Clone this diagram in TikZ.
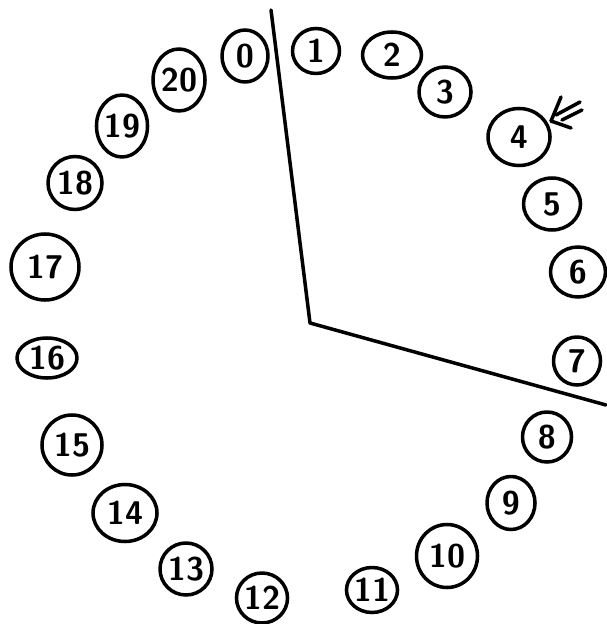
\documentclass[tikz,border=0pt]{standalone}
\usetikzlibrary{shapes.geometric}

\begin{document}
\begin{tikzpicture}[
    x=0.03cm, y=-0.03cm,
    font=\sffamily\bfseries\fontsize{28}{30}\selectfont,
    pen/.style={line width=3pt, line cap=round, line join=round},
    num/.style={pen, draw, ellipse, inner sep=0pt, minimum width=1.5cm, minimum height=1.5cm}
]
\useasboundingbox (0,0) rectangle (606,624);

% the ring of numbered positions
\node[num, minimum width=1.38cm, minimum height=1.56cm] (n0) at (245,56) {0};
\node[num, minimum width=1.41cm, minimum height=1.35cm] (n1) at (316,51) {1};
\node[num, minimum width=1.77cm, minimum height=1.38cm] (n2) at (392,55) {2};
\node[num, minimum width=1.56cm, minimum height=1.5cm] (n3) at (445,92) {3};
\node[num, minimum width=1.86cm, minimum height=1.71cm] (n4) at (519,137) {4};
\node[num, minimum width=1.71cm, minimum height=1.56cm] (n5) at (552,204) {5};
\node[num, minimum width=1.65cm, minimum height=1.5cm] (n6) at (578,272) {6};
\node[num, minimum width=1.41cm, minimum height=1.44cm] (n7) at (577,361) {7};
\node[num, minimum width=1.47cm, minimum height=1.5cm] (n8) at (547,437) {8};
\node[num, minimum width=1.44cm, minimum height=1.59cm] (n9) at (511,503) {9};
\node[num, minimum width=1.83cm, minimum height=1.89cm] (n10) at (447,556) {10};
\node[num, minimum width=1.2cm, minimum height=1.35cm] (n11) at (372,590) {11};
\node[num, minimum width=1.41cm, minimum height=1.5cm] (n12) at (262,598) {12};
\node[num, minimum width=1.56cm, minimum height=1.56cm] (n13) at (186,569) {13};
\node[num, minimum width=1.92cm, minimum height=1.71cm] (n14) at (125,513) {14};
\node[num, minimum width=1.8cm, minimum height=1.8cm] (n15) at (72,445) {15};
\node[num, minimum width=1.8cm, minimum height=1.2cm] (n16) at (47,358) {16};
\node[num, minimum width=2.04cm, minimum height=1.98cm] (n17) at (45,267) {17};
\node[num, minimum width=1.62cm, minimum height=1.59cm] (n18) at (75,183) {18};
\node[num, minimum width=1.5cm, minimum height=1.86cm] (n19) at (122,126) {19};
\node[num, minimum width=1.56cm, minimum height=1.86cm] (n20) at (179,80) {20};

% the two hands
\coordinate (top) at (271,10);
\coordinate (hub) at (310,323);
\coordinate (rim) at (606,405);
\draw[pen] (top) -- (hub) -- (rim);

% double arrow pointing at 4
\coordinate (tip) at (551,121);
\draw[pen] (tip) -- ++(10,-24);
\draw[pen] (tip) -- ++(20,7);
\draw[pen] (tip) ++(5,-6) -- ++(24,-13);
\draw[pen] (tip) ++(11,-1) -- ++(20,-10);
\end{tikzpicture}
\end{document}
